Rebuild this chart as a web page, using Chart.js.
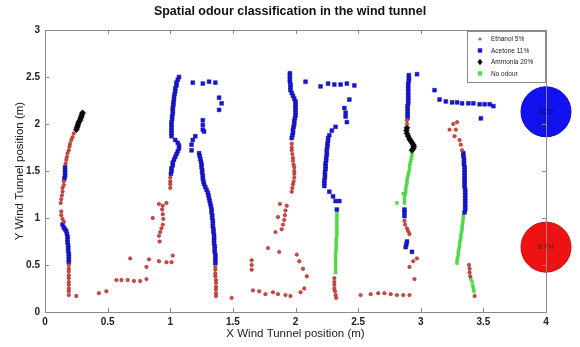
<!DOCTYPE html>
<html>
<head>
<meta charset="utf-8">
<script src="https://cdn.jsdelivr.net/npm/chart.js@4"></script>
<style>
  html, body { margin: 0; padding: 0; background: #fff; }
  #wrap { width: 580px; height: 347px; }
</style>
</head>
<body>
<div id="wrap"><canvas id="odourChart"></canvas></div>
<script>
// x, y positions (m), one array per class
const ethanol = [
  [0.23,1.90],[0.22,1.86],[0.21,1.83],[0.20,1.79],[0.195,1.76],[0.19,1.72],[0.18,1.69],[0.175,1.65],[0.17,1.62],[0.165,1.58],
  [0.15,1.39],[0.15,1.35],[0.14,1.32],[0.14,1.28],[0.135,1.24],[0.13,1.20],[0.125,1.16],
  [0.13,1.07],[0.13,1.03],[0.14,0.99],[0.15,0.96],
  [0.19,0.50],[0.19,0.46],[0.19,0.43],[0.19,0.39],[0.19,0.36],[0.19,0.32],[0.19,0.29],[0.19,0.25],[0.19,0.22],[0.19,0.18],
  [0.25,0.17],[0.43,0.20],[0.49,0.22],
  [0.57,0.34],[0.61,0.34],[0.66,0.34],[0.71,0.33],[0.76,0.33],[0.81,0.35],
  [0.68,0.57],[0.81,0.48],[0.83,0.56],[0.91,0.54],[0.97,0.53],[1.01,0.53],[1.02,0.60],
  [0.91,1.15],[0.94,1.13],[0.97,1.16],[0.935,1.09],[0.94,1.04],[0.945,0.99],[0.94,0.93],[0.93,0.89],[0.92,0.85],[0.91,0.81],[0.915,0.75],[0.86,1.00],
  [1.0,1.43],[1.0,1.39],[1.0,1.36],[1.0,1.32],
  [1.36,0.48],[1.36,0.45],[1.36,0.41],[1.36,0.38],[1.365,0.34],[1.365,0.31],[1.365,0.27],[1.365,0.24],[1.365,0.20],[1.365,0.17],
  [1.49,0.15],
  [1.97,1.79],[1.97,1.75],[1.97,1.72],[1.975,1.68],[1.98,1.64],[1.98,1.61],[1.985,1.57],[1.99,1.54],[1.99,1.50],[1.99,1.47],[1.99,1.43],[1.985,1.39],[1.98,1.36],[1.975,1.32],[1.97,1.28],
  [1.875,1.15],[1.93,1.13],[1.92,1.08],[1.915,1.03],[1.91,0.98],[1.90,0.93],[1.89,0.88],[1.86,1.01],[1.84,0.85],
  [1.78,0.68],[1.87,0.64],
  [1.65,0.55],[1.65,0.50],[1.65,0.45],
  [1.66,0.23],[1.71,0.22],[1.76,0.19],[1.82,0.21],[1.86,0.19],[1.92,0.18],[1.96,0.17],[2.04,0.21],[2.07,0.25],[2.09,0.38],[2.06,0.46],[2.03,0.54],[2.01,0.61],
  [2.31,0.36],[2.31,0.32],[2.31,0.29],[2.31,0.25],[2.315,0.22],[2.32,0.18],[2.325,0.15],
  [2.52,0.18],[2.60,0.19],[2.66,0.20],[2.71,0.20],[2.76,0.19],[2.81,0.18],[2.86,0.18],[2.91,0.18],
  [2.89,2.04],[2.89,2.00],
  [2.87,0.97],[2.875,0.93],[2.89,0.89],[2.90,0.86],[2.91,0.83],
  [2.97,0.57],[2.94,0.54],[2.91,0.48],[2.95,0.35],
  [3.29,2.02],[3.26,2.00],[3.23,1.94],[3.28,1.94],[3.27,1.87],[3.31,1.83],[3.32,1.78],[3.33,1.72],
  [3.385,0.50],[3.39,0.46],[3.39,0.42],[3.395,0.38],
  [3.43,0.17]
];

const acetone = [
  [0.16,1.54],[0.16,1.51],[0.16,1.48],[0.16,1.45],[0.155,1.42],
  [0.14,0.93],[0.15,0.90],[0.16,0.88],[0.17,0.86],
  [0.175,0.83],[0.18,0.80],[0.18,0.77],[0.18,0.74],[0.185,0.71],[0.185,0.68],[0.185,0.65],[0.19,0.62],[0.19,0.59],[0.19,0.56],[0.19,0.53],
  [1.07,2.50],[1.06,2.47],[1.05,2.44],[1.05,2.41],[1.04,2.38],[1.04,2.35],[1.035,2.32],[1.03,2.29],[1.03,2.26],[1.025,2.23],[1.025,2.20],
  [1.02,2.17],[1.02,2.14],[1.02,2.11],[1.015,2.08],[1.015,2.05],[1.01,2.02],[1.01,1.99],[1.01,1.96],[1.01,1.93],[1.01,1.90],[1.01,1.87],
  [1.04,1.83],[1.06,1.80],[1.07,1.77],[1.07,1.74],[1.06,1.71],[1.05,1.68],[1.04,1.65],[1.03,1.62],[1.02,1.59],[1.02,1.56],[1.01,1.53],[1.01,1.50],[1.005,1.47],
  [1.18,2.44],[1.26,2.43],[1.31,2.45],[1.36,2.44],[1.39,2.28],[1.41,2.22],[1.39,2.15],
  [1.26,2.04],[1.26,1.99],[1.26,1.94],[1.27,1.92],
  [1.20,1.87],[1.18,1.83],[1.17,1.78],[1.17,1.72],
  [1.23,1.69],[1.235,1.66],[1.24,1.63],[1.245,1.60],[1.25,1.57],[1.25,1.54],[1.255,1.51],[1.255,1.48],[1.26,1.45],[1.26,1.42],
  [1.265,1.39],[1.27,1.36],[1.28,1.33],[1.29,1.30],[1.30,1.27],[1.305,1.24],[1.31,1.21],[1.315,1.18],[1.32,1.15],[1.325,1.12],
  [1.33,1.09],[1.33,1.06],[1.335,1.03],[1.335,1.00],[1.34,0.97],[1.34,0.94],[1.34,0.91],[1.345,0.88],[1.345,0.85],[1.35,0.82],
  [1.35,0.79],[1.35,0.76],[1.35,0.73],[1.355,0.70],[1.355,0.67],[1.355,0.64],[1.36,0.61],[1.36,0.58],[1.36,0.55],[1.36,0.52],
  [1.955,2.54],[1.955,2.51],[1.955,2.48],[1.955,2.45],[1.96,2.42],[1.96,2.39],[1.96,2.36],[1.97,2.33],[1.98,2.30],[1.99,2.27],[2.0,2.24],[2.0,2.21],
  [2.0,2.18],[2.0,2.15],[2.0,2.12],[2.0,2.09],[1.995,2.06],[1.99,2.03],[1.99,2.00],[1.985,1.97],[1.98,1.94],[1.98,1.91],[1.975,1.88],[1.97,1.85],
  [2.08,2.45],
  [2.20,2.40],[2.26,2.43],[2.31,2.42],[2.36,2.42],[2.41,2.43],[2.47,2.41],
  [2.43,2.26],[2.39,2.17],[2.40,2.12],[2.40,2.08],[2.41,2.02],
  [2.32,1.97],[2.29,1.93],[2.27,1.88],
  [2.26,1.85],[2.26,1.82],[2.255,1.79],[2.255,1.76],[2.25,1.73],[2.25,1.70],[2.25,1.67],[2.245,1.64],[2.245,1.61],[2.24,1.58],
  [2.24,1.55],[2.24,1.52],[2.235,1.49],[2.235,1.46],[2.235,1.43],[2.23,1.40],[2.23,1.37],[2.23,1.34],
  [2.27,1.28],[2.30,1.23],[2.32,1.18],[2.35,1.18],
  [2.33,1.09],
  [2.97,2.53],
  [2.905,2.52],[2.905,2.49],[2.905,2.46],[2.90,2.43],[2.90,2.40],[2.90,2.37],[2.90,2.34],[2.90,2.31],[2.90,2.28],[2.90,2.25],
  [2.90,2.22],[2.895,2.19],[2.895,2.16],[2.895,2.13],[2.895,2.10],[2.895,2.07],
  [2.87,1.09],[2.87,1.06],[2.87,1.02],
  [2.89,0.75],[2.885,0.72],[2.88,0.69],[2.93,0.64],
  [3.11,2.36],
  [3.15,2.26],[3.20,2.24],[3.25,2.23],[3.29,2.23],[3.33,2.22],[3.38,2.22],[3.42,2.22],[3.47,2.21],[3.51,2.21],[3.55,2.21],[3.58,2.19],
  [3.48,2.06],
  [3.34,1.69],[3.34,1.66],[3.345,1.63],[3.345,1.60],[3.345,1.57],[3.35,1.54],[3.35,1.51],[3.35,1.48],[3.35,1.45],[3.35,1.42],[3.35,1.39],
  [3.35,1.36],[3.35,1.33],[3.355,1.30],[3.355,1.27],[3.355,1.24],[3.355,1.21],[3.355,1.18],[3.355,1.15],[3.355,1.12],[3.355,1.09],[3.35,1.06]
];

const ammonia = [
  [0.30,2.12],[0.295,2.10],[0.29,2.08],[0.285,2.06],[0.28,2.04],[0.27,2.02],[0.265,2.00],[0.26,1.98],[0.255,1.96],[0.25,1.94],
  [2.89,1.96],[2.885,1.93],[2.89,1.90],[2.90,1.87],[2.91,1.84],[2.92,1.82],[2.93,1.80],[2.94,1.78],[2.945,1.76],[2.94,1.74],[2.93,1.72]
];

const noOdour = [
  [2.33,1.05],[2.33,1.02],[2.33,0.99],[2.33,0.96],[2.33,0.93],[2.33,0.90],[2.33,0.87],[2.33,0.84],[2.33,0.81],[2.325,0.78],[2.325,0.75],
  [2.325,0.72],[2.325,0.69],[2.325,0.66],[2.32,0.63],[2.32,0.60],[2.32,0.57],[2.32,0.54],[2.32,0.51],[2.32,0.48],[2.32,0.45],[2.32,0.42],
  [2.93,1.70],[2.93,1.67],[2.925,1.64],[2.92,1.61],[2.915,1.58],[2.91,1.55],[2.91,1.52],[2.905,1.49],[2.90,1.46],[2.895,1.43],
  [2.89,1.40],[2.89,1.37],[2.885,1.34],[2.88,1.31],[2.88,1.28],[2.875,1.25],[2.87,1.22],[2.87,1.19],[2.87,1.16],
  [2.81,1.16],[2.86,1.26],
  [3.34,1.03],[3.34,1.00],[3.335,0.97],[3.335,0.94],[3.33,0.91],[3.33,0.88],[3.325,0.85],[3.32,0.82],[3.32,0.79],
  [3.315,0.76],[3.31,0.73],[3.31,0.70],[3.305,0.67],[3.30,0.64],[3.30,0.61],[3.295,0.58],[3.29,0.55],[3.29,0.52],
  [3.40,0.35],[3.41,0.32],[3.415,0.28],[3.42,0.25],[3.425,0.22]
];

// the two big class markers at the right edge
const markerLabels = ['ACE', 'ETH'];
const markerX = [4.0, 4.0];
const markerY = [2.13, 0.69];

const legendNames = ['Ethanol 5%', 'Acetone 11%', 'Ammonia 20%', 'No odour'];

const toXY = arr => arr.map(p => ({ x: p[0], y: p[1] }));
const plainTick = v => String(v);

// box, inward ticks, circle labels and the little legend
const matlabBits = {
    id: 'matlabBits',
    afterDatasetsDraw(chart) {
        const ctx = chart.ctx;
        const a = chart.chartArea;
        const xs = chart.scales.x, ys = chart.scales.y;
        ctx.save();
        ctx.strokeStyle = '#8a8a8a';
        ctx.lineWidth = 1;
        ctx.strokeRect(a.left + 0.5, a.top + 0.5, a.right - a.left, a.bottom - a.top);
        ctx.beginPath();
        xs.ticks.forEach(t => {
            const px = Math.round(xs.getPixelForValue(t.value)) + 0.5;
            ctx.moveTo(px, a.bottom); ctx.lineTo(px, a.bottom - 4);
            ctx.moveTo(px, a.top); ctx.lineTo(px, a.top + 4);
        });
        ys.ticks.forEach(t => {
            const py = Math.round(ys.getPixelForValue(t.value)) + 0.5;
            ctx.moveTo(a.left, py); ctx.lineTo(a.left + 4, py);
            ctx.moveTo(a.right, py); ctx.lineTo(a.right - 4, py);
        });
        ctx.stroke();

        // labels in the circles
        const meta = chart.getDatasetMeta(4);
        ctx.font = '8px "Liberation Sans", Arial, sans-serif';
        ctx.textAlign = 'center';
        ctx.textBaseline = 'middle';
        meta.data.forEach((pt, i) => {
            ctx.fillStyle = i === 0 ? '#0c0c5c' : '#6c0c0c';
            ctx.fillText(markerLabels[i], pt.x, pt.y);
        });

        // legend box
        const w = 79, h = 52;
        const lx = a.right - w, ly = a.top + 1;
        ctx.fillStyle = '#fff';
        ctx.fillRect(lx, ly, w, h);
        ctx.strokeStyle = '#8a8a8a';
        ctx.strokeRect(lx + 0.5, ly + 0.5, w - 1, h - 1);
        ctx.font = '6.5px "Liberation Sans", Arial, sans-serif';
        ctx.textAlign = 'left';
        legendNames.forEach((name, i) => {
            const ds = chart.data.datasets[i];
            const cy = ly + 8 + i * 11.5;
            const cx = lx + 13;
            ctx.fillStyle = ds.backgroundColor;
            ctx.strokeStyle = ds.borderColor;
            ctx.beginPath();
            if (ds.pointStyle === 'rect') {
                ctx.rect(cx - 2.2, cy - 2.2, 4.4, 4.4);
            } else if (ds.pointStyle === 'rectRot') {
                ctx.moveTo(cx, cy - 3.2); ctx.lineTo(cx + 2.6, cy);
                ctx.lineTo(cx, cy + 3.2); ctx.lineTo(cx - 2.6, cy);
                ctx.closePath();
            } else {
                ctx.arc(cx, cy, 1.6, 0, Math.PI * 2);
            }
            ctx.fill();
            ctx.fillStyle = '#222';
            ctx.fillText(name, lx + 24, cy + 0.5);
        });
        ctx.restore();
    }
};

new Chart(document.getElementById('odourChart'), {
    type: 'scatter',
    data: {
        datasets: [
            {
                label: legendNames[0],
                data: toXY(ethanol),
                pointStyle: 'circle',
                pointRadius: 1.7,
                backgroundColor: 'rgb(226, 70, 60)',
                borderColor: 'rgb(140, 35, 35)',
                borderWidth: 0.6
            },
            {
                label: legendNames[1],
                data: toXY(acetone),
                pointStyle: 'rect',
                pointRadius: 2.7,
                backgroundColor: 'rgb(24, 24, 210)',
                borderColor: 'rgb(10, 10, 160)',
                borderWidth: 0.5
            },
            {
                label: legendNames[2],
                data: toXY(ammonia),
                pointStyle: 'rectRot',
                pointRadius: 3,
                backgroundColor: 'rgb(10, 10, 10)',
                borderColor: 'rgb(0, 0, 0)',
                borderWidth: 0.5
            },
            {
                label: legendNames[3],
                data: toXY(noOdour),
                pointStyle: 'rect',
                pointRadius: 2,
                backgroundColor: 'rgb(80, 225, 70)',
                borderColor: 'rgb(60, 200, 50)',
                borderWidth: 0.5
            },
            {
                label: 'markers',
                data: markerX.map((x, i) => ({ x: x, y: markerY[i] })),
                pointStyle: 'circle',
                pointRadius: 25,
                backgroundColor: ['rgb(18, 18, 240)', 'rgb(238, 18, 18)'],
                borderColor: ['rgb(10, 10, 200)', 'rgb(200, 10, 10)'],
                borderWidth: 1,
                clip: false
            }
        ]
    },
    options: {
        responsive: true,
        maintainAspectRatio: false,
        animation: false,
        events: [],
        layout: { padding: 0 },
        plugins: {
            legend: { display: false },
            tooltip: { enabled: false },
            title: {
                display: true,
                text: 'Spatial odour classification in the wind tunnel',
                color: '#111',
                font: { family: '"Liberation Sans", Arial, sans-serif', size: 12.5, weight: 'bold' },
                padding: { top: 4, bottom: 11 }
            }
        },
        scales: {
            x: {
                type: 'linear',
                min: 0,
                max: 4,
                ticks: {
                    stepSize: 0.5,
                    padding: 4,
                    maxRotation: 0,
                    callback: plainTick,
                    color: '#222',
                    font: { family: '"Liberation Sans", Arial, sans-serif', size: 10, weight: 'bold' }
                },
                grid: { display: false, drawTicks: false },
                border: { display: false },
                title: {
                    display: true,
                    text: 'X Wind Tunnel position (m)',
                    color: '#222',
                    font: { family: '"Liberation Sans", Arial, sans-serif', size: 11.5 },
                    padding: { top: 0, bottom: 6 }
                },
                afterFit: s => { s.height = 35; }
            },
            y: {
                type: 'linear',
                min: 0,
                max: 3,
                ticks: {
                    stepSize: 0.5,
                    padding: 5,
                    callback: plainTick,
                    color: '#222',
                    font: { family: '"Liberation Sans", Arial, sans-serif', size: 10, weight: 'bold' }
                },
                grid: { display: false, drawTicks: false },
                border: { display: false },
                title: {
                    display: true,
                    text: 'Y Wind Tunnel position (m)',
                    color: '#222',
                    font: { family: '"Liberation Sans", Arial, sans-serif', size: 11.5 },
                    padding: { top: 13, bottom: 0 }
                },
                afterFit: s => { s.width = 45; }
            },
            // empty strip on the right where the ACE / ETH circles sit
            yRight: {
                type: 'linear',
                position: 'right',
                min: 0,
                max: 3,
                ticks: { display: false },
                grid: { display: false, drawTicks: false },
                border: { display: false },
                afterFit: s => { s.width = 34; }
            }
        }
    },
    plugins: [matlabBits]
});
</script>
</body>
</html>
